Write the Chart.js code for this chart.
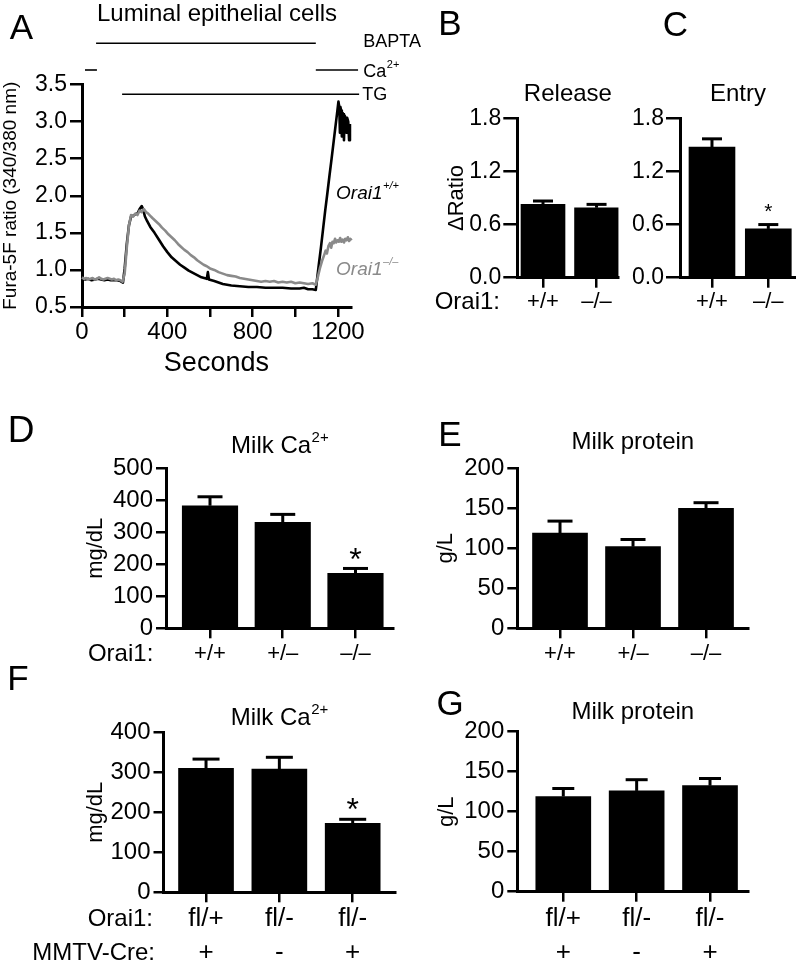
<!DOCTYPE html>
<html><head><meta charset="utf-8">
<script src="https://cdn.jsdelivr.net/npm/chart.js@4.4.1/dist/chart.umd.min.js"></script>
<style>
html,body{margin:0;padding:0;background:#fff;}
#wrap{position:relative;width:796px;height:971px;overflow:hidden;background:#fff;}
#wrap canvas{position:absolute;left:0;top:0;}
</style></head><body>
<div id="wrap">
<canvas id="cA" width="796" height="971"></canvas>
<canvas id="cB" width="796" height="971"></canvas>
<canvas id="cC" width="796" height="971"></canvas>
<canvas id="cD" width="796" height="971"></canvas>
<canvas id="cE" width="796" height="971"></canvas>
<canvas id="cF" width="796" height="971"></canvas>
<canvas id="cG" width="796" height="971"></canvas>
</div>
<script>
// ---------------- DATA ----------------
// Panel A traces: [seconds, Fura-5F ratio]
const koTrace = [[0,0.90],[10,0.88],[20,0.89],[30,0.87],[40,0.88],[50,0.89],[60,0.87],[70,0.88],[80,0.90],[90,0.88],[100,0.87],[110,0.88],[120,0.89],[130,0.88],[140,0.87],[150,0.88],[160,0.86],[170,0.87],[180,0.86],[190,0.84],[200,0.95],[210,1.30],[220,1.60],[230,1.74],[240,1.72],[250,1.76],[260,1.74],[270,1.80],[280,1.78],[290,1.82],[300,1.78],[310,1.76],[320,1.73],[330,1.70],[345,1.66],[360,1.62],[375,1.57],[390,1.53],[405,1.48],[420,1.44],[435,1.40],[450,1.35],[465,1.31],[480,1.27],[495,1.24],[510,1.20],[525,1.17],[540,1.13],[555,1.10],[570,1.07],[585,1.05],[600,1.02],[620,1.00],[640,0.97],[660,0.95],[680,0.93],[700,0.92],[720,0.91],[740,0.89],[760,0.88],[780,0.87],[800,0.86],[820,0.85],[840,0.84],[860,0.85],[880,0.84],[900,0.85],[920,0.83],[940,0.84],[960,0.83],[980,0.84],[1000,0.82],[1020,0.83],[1040,0.82],[1060,0.81],[1080,0.82],[1096,0.80],[1105,0.90],[1115,1.02],[1125,1.12],[1135,1.20],[1142,1.26],[1148,1.22],[1155,1.32],[1162,1.36],[1168,1.30],[1174,1.38],[1180,1.36],[1186,1.42],[1192,1.37],[1198,1.40],[1204,1.38],[1210,1.43],[1216,1.38],[1222,1.41],[1228,1.37],[1234,1.42],[1240,1.40],[1246,1.44],[1252,1.39],[1258,1.42],[1264,1.40],[1270,1.44],[1276,1.41],[1282,1.45],[1286,1.56],[1290,1.42],[1295,1.33],[1300,1.40],[1304,1.38]];
const wtTrace = [[0,0.88],[15,0.87],[30,0.88],[45,0.86],[60,0.87],[75,0.88],[90,0.87],[105,0.86],[120,0.87],[135,0.86],[150,0.86],[165,0.86],[180,0.85],[192,0.83],[200,1.02],[210,1.35],[220,1.60],[230,1.72],[240,1.73],[250,1.75],[260,1.76],[270,1.82],[280,1.86],[286,1.82],[295,1.72],[305,1.66],[320,1.58],[340,1.50],[360,1.41],[380,1.32],[400,1.24],[420,1.17],[440,1.12],[460,1.07],[480,1.03],[500,0.99],[520,0.96],[540,0.93],[560,0.90],[585,0.88],[590,0.97],[595,0.87],[620,0.85],[640,0.83],[660,0.81],[680,0.80],[700,0.79],[740,0.78],[780,0.77],[820,0.77],[860,0.76],[900,0.76],[940,0.76],[980,0.75],[1020,0.75],[1040,0.76],[1060,0.74],[1080,0.74],[1096,0.73],[1110,1.07],[1120,1.30],[1130,1.55],[1140,1.80],[1150,2.03],[1160,2.27],[1170,2.50],[1180,2.74],[1190,2.98],[1196,3.12],[1202,3.27],[1206,3.20],[1209,2.85],[1211,3.20],[1215,3.15],[1218,2.80],[1221,3.12],[1225,3.10],[1228,2.75],[1231,3.08],[1236,3.05],[1240,2.85],[1243,3.05],[1248,3.00],[1252,2.75],[1256,2.95],[1262,2.95],[1268,2.85],[1274,2.80],[1280,2.65],[1288,2.45],[1296,2.35],[1304,2.32]];
const secondsTicks = [0,200,400,600,800,1000,1200];
const secondsLabeled = [0,400,800,1200];
// treatment bars (seconds)
const baptaWindow = [66,1096];
const caWindows = [[14,70],[1096,1294]];
const tgWindow = [188,1299];

// Panels B, C
const genoBC = ['+/+','\u2013/\u2013'];
const releaseMean = [0.828, 0.790];
const releaseSem  = [0.038, 0.038];
const entryMean = [1.474, 0.551];
const entrySem  = [0.094, 0.049];
const releaseSig = [false,false];
const entrySig = [false,true];

// Panels D, E
const genoDE = ['+/+','+/\u2013','\u2013/\u2013'];
const milkCaD = [383, 331, 172];
const milkCaDSem = [28, 25, 15];
const milkCaDSig = [false,false,true];
const milkProtE = [119, 102, 150];
const milkProtESem = [15, 9, 7];
const milkProtESig = [false,false,false];

// Panels F, G
const genoFG = [['fl/+','+'],['fl/-','-'],['fl/-','+']];
const milkCaF = [310, 308, 172.5];
const milkCaFSem = [23, 29.5, 10];
const milkCaFSig = [false,false,true];
const milkProtG = [119, 126, 132.5];
const milkProtGSem = [10, 14, 9];
const milkProtGSig = [false,false,false];

// ---------------- HELPERS ----------------
const FAM = '"Liberation Sans", Arial, Helvetica, sans-serif';
function fnt(size, style){ return (style ? style + ' ' : '') + size + 'px ' + FAM; }
const W = 796, H = 971, YW = 70, XH = 80;
function padFor(a){ return {left: a.l - YW, top: a.t, right: W - a.r, bottom: H - a.b - XH}; }

function drawSup(ctx, x, y, main, sup, size, supSize, rise, align, style){
  ctx.font = fnt(size, style); const w1 = ctx.measureText(main).width;
  ctx.font = fnt(supSize, style); const w2 = sup ? ctx.measureText(sup).width : 0;
  const x0 = align === 'center' ? x - (w1 + w2) / 2 : x;
  ctx.textAlign = 'left'; ctx.textBaseline = 'middle';
  ctx.font = fnt(size, style); ctx.fillText(main, x0, y);
  if (sup){ ctx.font = fnt(supSize, style); ctx.fillText(sup, x0 + w1 + 0.5, y - rise); }
}

function decor(cfg){
  return {
    id: 'decor',
    afterDatasetsDraw(chart){
      if (!cfg.mean) return;
      const ctx = chart.ctx, ys = chart.scales.y, meta = chart.getDatasetMeta(0);
      ctx.save(); ctx.strokeStyle = '#000'; ctx.fillStyle = '#000';
      meta.data.forEach((bar, i) => {
        const x = bar.x, y0 = bar.y, y1 = ys.getPixelForValue(cfg.mean[i] + cfg.sem[i]);
        ctx.lineWidth = 3;
        ctx.beginPath(); ctx.moveTo(x, y0); ctx.lineTo(x, y1); ctx.stroke();
        ctx.beginPath(); ctx.moveTo(x - cfg.capW/2, y1); ctx.lineTo(x + cfg.capW/2, y1); ctx.stroke();
        if (cfg.sig && cfg.sig[i]){
          ctx.font = fnt(cfg.starSize); ctx.textAlign = 'center'; ctx.textBaseline = 'alphabetic';
          ctx.fillText('*', x, y1 - cfg.starGap + 0.56 * cfg.starSize);
        }
      });
      ctx.restore();
    },
    afterDraw(chart){
      const ctx = chart.ctx, a = chart.chartArea;
      ctx.save(); ctx.fillStyle = '#000';
      if (cfg.letter){
        ctx.font = fnt(cfg.letter.size || 35); ctx.textAlign = 'center'; ctx.textBaseline = 'middle';
        ctx.fillText(cfg.letter.t, cfg.letter.x, cfg.letter.y);
      }
      if (cfg.title){
        drawSup(ctx, (a.left + a.right)/2, a.top + cfg.title.dy, cfg.title.text, cfg.title.sup || '', 24, 15, 8, 'center');
      }
      if (cfg.ylabel){
        ctx.save(); ctx.translate(cfg.ylabel.x, (a.top + a.bottom)/2); ctx.rotate(-Math.PI/2);
        ctx.font = fnt(cfg.ylabel.size); ctx.textAlign = 'center'; ctx.textBaseline = 'middle';
        ctx.fillText(cfg.ylabel.text, 0, 0); ctx.restore();
      }
      (cfg.rows || []).forEach(r => {
        ctx.font = fnt(r.size || 24); ctx.textAlign = 'right'; ctx.textBaseline = 'middle';
        ctx.fillText(r.text, a.left + r.dx, a.bottom + r.dy);
      });
      if (cfg.extra) cfg.extra(chart, ctx, a);
      ctx.restore();
    }
  };
}

function axisStyle(tickLen){
  return {
    offset: false,
    grid: {offset:false, drawOnChartArea:false, drawTicks:true, tickLength:tickLen, lineWidth:2.5, color:'#000', tickColor:'#000'},
    border: {display:true, color:'#000', width:3}
  };
}

function barChart(id, c){
  const xa = axisStyle(10), ya = axisStyle(c.yTick);
  return new Chart(document.getElementById(id), {
    type: 'bar',
    data: { datasets: [{
      data: c.mean.map((v, i) => ({x: i + 1, y: v})),
      backgroundColor: '#000', borderWidth: 0, barThickness: c.barW
    }]},
    options: {
      responsive:false, animation:false, devicePixelRatio:1,
      layout: {padding: padFor(c.area)},
      plugins: {legend:{display:false}, tooltip:{enabled:false}},
      scales: {
        x: Object.assign({
          type:'linear', min:c.xmin, max:c.xmax,
          afterBuildTicks: s => { s.ticks = c.labels.map((_, i) => ({value: i + 1})); },
          afterFit: s => { s.height = XH; },
          ticks: {autoSkip:false, maxRotation:0, minRotation:0, color:'#000',
            font:{family:FAM, size:c.xFont, lineHeight:c.xLine || 1.2}, padding:c.xPad,
            callback: v => c.labels[Math.round(v) - 1]}
        }, xa),
        y: Object.assign({
          min:0, max:c.ymax,
          afterFit: s => { s.width = YW; },
          ticks: {stepSize:c.step, color:'#000', font:{family:FAM, size:c.yFont}, padding:c.yPad,
            callback: v => c.dec ? v.toFixed(c.dec) : String(Math.round(v))}
        }, ya)
      }
    },
    plugins: [decor(c.decor)]
  });
}

// ---------------- PANEL A ----------------
new Chart(document.getElementById('cA'), {
  type: 'line',
  data: { datasets: [
    {data: koTrace.map(p => ({x:p[0], y:p[1]})), borderColor:'#8a8a8a', borderWidth:2.6, pointRadius:0, tension:0, clip:false, borderJoinStyle:'round'},
    {data: wtTrace.map(p => ({x:p[0], y:p[1]})), borderColor:'#000', borderWidth:2.6, pointRadius:0, tension:0, clip:false, borderJoinStyle:'round'}
  ]},
  options: {
    responsive:false, animation:false, devicePixelRatio:1,
    layout: {padding: padFor({l:82, r:350.8, t:84.5, b:307})},
    plugins: {legend:{display:false}, tooltip:{enabled:false}},
    scales: {
      x: Object.assign({
        type:'linear', min:0, max:1260,
        afterBuildTicks: s => { s.ticks = secondsTicks.map(v => ({value:v})); },
        afterFit: s => { s.height = XH; },
        ticks: {autoSkip:false, maxRotation:0, color:'#000', font:{family:FAM, size:24}, padding:1,
          callback: v => secondsLabeled.includes(v) ? String(v) : ''}
      }, axisStyle(10)),
      y: Object.assign({
        min:0.5, max:3.5,
        afterFit: s => { s.width = YW; },
        ticks: {stepSize:0.5, color:'#000', font:{family:FAM, size:23}, padding:3, callback: v => v.toFixed(1)}
      }, axisStyle(12))
    }
  },
  plugins: [decor({
    letter:{t:'A', x:21.5, y:29.5},
    ylabel:{text:'Fura-5F ratio (340/380 nm)', x:11, size:19},
    extra(chart, ctx, a){
      const xs = chart.scales.x, ys = chart.scales.y;
      ctx.fillStyle = '#000';
      ctx.font = fnt(24); ctx.textAlign = 'center'; ctx.textBaseline = 'middle';
      ctx.fillText('Luminal epithelial cells', 217, 14.5);
      ctx.font = fnt(27);
      ctx.fillText('Seconds', (a.left + a.right)/2, 364);
      ctx.strokeStyle = '#000'; ctx.lineWidth = 1.6;
      const seg = (t0, t1, y) => { ctx.beginPath(); ctx.moveTo(xs.getPixelForValue(t0), y); ctx.lineTo(xs.getPixelForValue(t1), y); ctx.stroke(); };
      seg(baptaWindow[0], baptaWindow[1], a.top - 41.2);
      caWindows.forEach(w => seg(w[0], w[1], a.top - 14.5));
      seg(tgWindow[0], tgWindow[1], a.top + 9.8);
      const tx = xs.getPixelForValue(1300) + 4;
      ctx.font = fnt(18); ctx.textAlign = 'left'; ctx.textBaseline = 'middle';
      ctx.fillText('BAPTA', tx, a.top - 42.8);
      drawSup(ctx, tx, a.top - 12.8, 'Ca', '2+', 18, 11, 7, 'left');
      ctx.font = fnt(18); ctx.textAlign = 'left'; ctx.textBaseline = 'middle';
      ctx.fillText('TG', tx - 1, a.top + 11);
      ctx.fillStyle = '#000';
      drawSup(ctx, xs.getPixelForValue(1191), ys.getPixelForValue(2.03), 'Orai1', '+/+', 19, 11, 8, 'left', 'italic');
      ctx.fillStyle = '#8a8a8a';
      drawSup(ctx, xs.getPixelForValue(1191), ys.getPixelForValue(1.0), 'Orai1', '\u2013/\u2013', 19, 11, 8, 'left', 'italic');
    }
  })]
});

// ---------------- PANELS B, C ----------------
barChart('cB', {
  area:{l:517.3, r:618.5, t:118.3, b:277.7}, xmin:0.52, xmax:2.41, barW:44,
  mean:releaseMean, labels:genoBC, ymax:1.8, step:0.6, dec:1, yFont:23, yTick:14, yPad:2,
  xFont:22, xPad:1,
  decor:{mean:releaseMean, sem:releaseSem, sig:releaseSig, capW:20, starSize:21, starGap:18,
    letter:{t:'B', x:450, y:25.5}, title:{text:'Release', dy:-23.8},
    ylabel:{text:'\u0394Ratio', x:456.7, size:22},
    rows:[{text:'Orai1:', dx:-17.3, dy:24.8}]}
});
barChart('cC', {
  area:{l:680, r:796, t:118.3, b:277.7}, xmin:0.432, xmax:2.492, barW:46,
  mean:entryMean, labels:genoBC, ymax:1.8, step:0.6, dec:1, yFont:23, yTick:14, yPad:2,
  xFont:22, xPad:1,
  decor:{mean:entryMean, sem:entrySem, sig:entrySig, capW:20, starSize:21, starGap:18,
    letter:{t:'C', x:675.5, y:26.7}, title:{text:'Entry', dy:-23.8}}
});

// ---------------- PANELS D, E ----------------
barChart('cD', {
  area:{l:166, r:393.3, t:468.3, b:628.3}, xmin:0.395, xmax:3.52, barW:55.5,
  mean:milkCaD, labels:genoDE, ymax:500, step:100, dec:0, yFont:24, yTick:10, yPad:3,
  xFont:22, xPad:2.5,
  decor:{mean:milkCaD, sem:milkCaDSem, sig:milkCaDSig, capW:25, starSize:32, starGap:16.6,
    letter:{t:'D', x:21, y:432, size:37}, title:{text:'Milk Ca', sup:'2+', dy:-22.1},
    ylabel:{text:'mg/dL', x:96, size:22},
    rows:[{text:'Orai1:', dx:-12.7, dy:25.7}]}
});
barChart('cE', {
  area:{l:517.3, r:748.3, t:468.3, b:628.3}, xmin:0.415, xmax:3.579, barW:55,
  mean:milkProtE, labels:genoDE, ymax:200, step:50, dec:0, yFont:24, yTick:10, yPad:3,
  xFont:22, xPad:2.5,
  decor:{mean:milkProtE, sem:milkProtESem, sig:milkProtESig, capW:25, starSize:32, starGap:16.6,
    letter:{t:'E', x:450, y:436}, title:{text:'Milk protein', dy:-25.8},
    ylabel:{text:'g/L', x:446, size:22}}
});

// ---------------- PANELS F, G ----------------
barChart('cF', {
  area:{l:163.5, r:395, t:732.3, b:892.3}, xmin:0.42, xmax:3.577, barW:55,
  mean:milkCaF, labels:genoFG, ymax:400, step:100, dec:0, yFont:24, yTick:10, yPad:3,
  xFont:26, xLine:1.3, xPad:0,
  decor:{mean:milkCaF, sem:milkCaFSem, sig:milkCaFSig, capW:27, starSize:32, starGap:17.6,
    letter:{t:'F', x:18, y:680}, title:{text:'Milk Ca', sup:'2+', dy:-14.3},
    ylabel:{text:'mg/dL', x:96, size:22},
    rows:[{text:'Orai1:', dx:-10.5, dy:26.7}, {text:'MMTV-Cre:', dx:-8.5, dy:61}]}
});
barChart('cG', {
  area:{l:517.3, r:748.3, t:731.7, b:891.7}, xmin:0.373, xmax:3.522, barW:55,
  mean:milkProtG, labels:genoFG, ymax:200, step:50, dec:0, yFont:24, yTick:10, yPad:3,
  xFont:26, xLine:1.3, xPad:0,
  decor:{mean:milkProtG, sem:milkProtGSem, sig:milkProtGSig, capW:22, starSize:32, starGap:17,
    letter:{t:'G', x:450, y:705}, title:{text:'Milk protein', dy:-19.7},
    ylabel:{text:'g/L', x:447, size:22}}
});
</script>
</body></html>
